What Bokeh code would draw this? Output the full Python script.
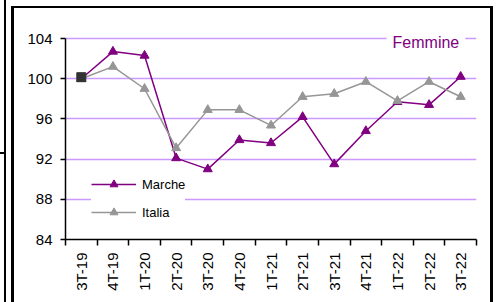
import math
from bokeh.plotting import figure
from bokeh.models import (Range1d, FixedTicker, Legend, LegendItem, Label,
                          ColumnDataSource)
from bokeh.embed import file_html
from bokeh.resources import INLINE

categories = ["3T-19", "4T-19", "1T-20", "2T-20", "3T-20", "4T-20", "1T-21",
              "2T-21", "3T-21", "4T-21", "1T-22", "2T-22", "3T-22"]
marche = [100.0, 102.7, 102.3, 92.1, 91.0, 93.9, 93.6, 96.2, 91.5, 94.8, 97.7, 97.4, 100.2]
italia = [100.0, 101.2, 99.0, 93.1, 96.9, 96.9, 95.35, 98.2, 98.5, 99.7, 97.8, 99.7, 98.2]
base_index = [0]
base_val = [100.15]
y_ticks = [84, 88, 92, 96, 100, 104]
title_text = "Femmine"

n = len(categories)
xs = [i + 0.5 for i in range(n)]
src = ColumnDataSource(dict(x=xs, marche=marche, italia=italia, cat=categories))
base_src = ColumnDataSource(dict(x=[xs[i] for i in base_index], y=base_val))

FONT = "Liberation Sans"
PURPLE = "#800080"
GRAY = "#969696"

# layout (pixels)
W, H = 498, 302
AX_LEFT, AX_RIGHT, AX_TOP, AX_BOTTOM = 65, 476, 38, 239
FRAME_TOP = 18  # plot frame extends above the axis top so the title label is not clipped
px_per_unit = (AX_BOTTOM - AX_TOP) / (y_ticks[-1] - y_ticks[0])
y_end = y_ticks[-1] + (AX_TOP - FRAME_TOP) / px_per_unit

# decorative chart-area border drawn as CSS background layers (under the canvas)
frame_css = {
    "background-color": "white",
    "background-image": ", ".join(["linear-gradient(#000, #000)"] * 5),
    "background-size": "2px 302px, 3px 296px, 482px 2px, 3px 296px, 5px 2px",
    "background-position": "4px 0px, 11px 6px, 11px 6px, 490px 6px, 0px 152px",
    "background-repeat": "no-repeat",
}

p = figure(width=W, height=H, output_backend="svg", toolbar_location=None,
           x_range=Range1d(0, n), y_range=Range1d(y_ticks[0], y_end),
           min_border_left=AX_LEFT, min_border_right=W - AX_RIGHT,
           min_border_top=FRAME_TOP, min_border_bottom=H - AX_BOTTOM,
           styles=frame_css)
p.outline_line_color = None
p.background_fill_color = "white"
p.border_fill_color = None

# x axis
p.xaxis.ticker = FixedTicker(ticks=xs, minor_ticks=list(range(n + 1)))
p.xaxis.major_label_overrides = {x: c for x, c in zip(xs, categories)}
p.xaxis.major_tick_out = 0
p.xaxis.major_tick_in = 0
p.xaxis.minor_tick_out = 6
p.xaxis.minor_tick_in = 0
p.xaxis.minor_tick_line_color = "black"
p.xaxis.minor_tick_line_width = 1.5
p.xaxis.major_label_orientation = math.pi / 2
p.xaxis.major_label_standoff = 7
p.xaxis.major_label_text_font = FONT
p.xaxis.major_label_text_font_size = "15px"
p.xaxis.major_label_text_color = "black"
p.xaxis.axis_line_color = "black"
p.xaxis.axis_line_width = 1.5

# y axis
p.yaxis.ticker = FixedTicker(ticks=y_ticks)
p.yaxis.bounds = (y_ticks[0], y_ticks[-1])
p.yaxis.major_tick_out = 5
p.yaxis.major_tick_in = 0
p.yaxis.major_tick_line_width = 1.5
p.yaxis.minor_tick_line_color = None
p.yaxis.major_label_standoff = 8
p.yaxis.major_label_text_font = FONT
p.yaxis.major_label_text_font_size = "15px"
p.yaxis.major_label_text_color = "black"
p.yaxis.axis_line_color = "black"
p.yaxis.axis_line_width = 1.5

p.xgrid.visible = False
p.ygrid.ticker = FixedTicker(ticks=y_ticks)
p.ygrid.grid_line_color = "#CC99FF"
p.ygrid.grid_line_width = 1.5

l1 = p.line("x", "marche", source=src, line_color=PURPLE, line_width=1.5)
s1 = p.scatter("x", "marche", source=src, marker="triangle", size=9,
               fill_color=PURPLE, line_color=PURPLE)
l2 = p.line("x", "italia", source=src, line_color=GRAY, line_width=1.5)
s2 = p.scatter("x", "italia", source=src, marker="triangle", size=9,
               fill_color=GRAY, line_color=GRAY)
p.scatter("x", "y", source=base_src, marker="square", size=9,
          fill_color="#333333", line_color="#333333")

legend = Legend(items=[LegendItem(label="Marche", renderers=[l1, s1]),
                       LegendItem(label="Italia", renderers=[l2, s2])],
                location=(26, 17), glyph_width=45, glyph_height=20, label_height=20,
                spacing=8, padding=5, label_standoff=6, margin=0,
                border_line_color=None, background_fill_color="white",
                background_fill_alpha=1.0, label_text_font=FONT,
                label_text_font_size="13px", label_text_color="black")
p.add_layout(legend)

lab = Label(x=11.4, y=y_ticks[-1], text=title_text, text_align="center",
            text_baseline="middle", y_offset=-4, text_color=PURPLE,
            text_font=FONT, text_font_size="16px",
            background_fill_color="white", background_fill_alpha=1.0, padding=6)
p.add_layout(lab)

open("out.html", "w").write(file_html(p, INLINE))
